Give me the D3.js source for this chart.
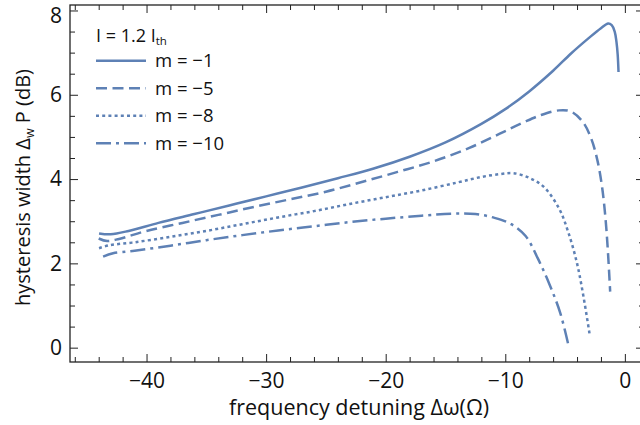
<!DOCTYPE html>
<html>
<head>
<meta charset="utf-8">
<script src="https://cdn.jsdelivr.net/npm/d3@7"></script>
<style>
  html, body { margin: 0; padding: 0; background: #fff; }
  svg { display: block; font-family: "Open Sans", "Noto Sans", sans-serif; }
</style>
</head>
<body>
<svg id="chart" width="640" height="425"></svg>
<script>
// ---- data ----
const xM1 = [-43.97, -43, -41.5, -39, -36, -33, -30, -27, -24, -21, -18, -15, -12, -10, -8, -6, -4.5, -3, -2, -1.4, -1.1, -0.85, -0.7, -0.6, -0.53];
const yM1 = [2.71, 2.69, 2.77, 2.96, 3.17, 3.38, 3.59, 3.80, 4.02, 4.25, 4.53, 4.87, 5.31, 5.66, 6.08, 6.57, 6.98, 7.35, 7.58, 7.69, 7.65, 7.50, 7.25, 6.95, 6.54];

const xM5 = [-44, -43.3, -42.3, -40, -37, -34, -31, -28, -25, -22, -19, -16, -13, -10.5, -8.5, -7, -5.5, -4.5, -3.5, -2.8, -2.3, -1.9, -1.6, -1.4, -1.23];
const yM5 = [2.59, 2.53, 2.58, 2.77, 2.96, 3.15, 3.34, 3.52, 3.70, 3.93, 4.17, 4.42, 4.74, 5.07, 5.34, 5.52, 5.63, 5.60, 5.35, 4.95, 4.45, 3.80, 3.00, 2.20, 1.33];

const xM8 = [-43.97, -43.1, -41, -38, -35, -32, -29, -26, -23, -20, -17, -14, -12, -10.4, -9.3, -8, -6.8, -5.5, -4.7, -4.0, -3.46, -2.96];
const yM8 = [2.36, 2.43, 2.50, 2.63, 2.77, 2.93, 3.09, 3.24, 3.41, 3.57, 3.73, 3.92, 4.05, 4.12, 4.14, 4.03, 3.82, 3.30, 2.71, 2.00, 1.21, 0.34];

const xM10 = [-43.63, -42.8, -41, -38, -35, -32, -29, -26, -23, -20, -17, -14.5, -12.5, -10.9, -9.5, -8.3, -7.3, -6.3, -5.4, -4.72];
const yM10 = [2.16, 2.24, 2.30, 2.42, 2.55, 2.67, 2.78, 2.88, 2.98, 3.06, 3.13, 3.18, 3.17, 3.08, 2.93, 2.65, 2.13, 1.50, 0.82, 0.06];

const seriesNames = ["m = \u22121", "m = \u22125", "m = \u22128", "m = \u221210"];
const xTickValues = [-40, -30, -20, -10, 0];
const yTickValues = [0, 2, 4, 6, 8];
const xDomain = [-46.4, 1.6];
const yDomain = [-0.34, 8.13];

// ---- styles ----
const color = "#5e81b5";
const dashes = [null, "11,5.5", "3,3.2", "15,5,3,5"];
const frameColor = "#222";

const svg = d3.select("#chart");
const plot = { left: 70, right: 644, top: 5, bottom: 362 };

const x = d3.scaleLinear().domain(xDomain).range([plot.left, plot.right]);
const y = d3.scaleLinear().domain(yDomain).range([plot.bottom, plot.top]);

svg.append("clipPath").attr("id", "clip")
  .append("rect").attr("x", plot.left).attr("y", plot.top)
  .attr("width", plot.right - plot.left).attr("height", plot.bottom - plot.top);

// ---- frame and ticks ----
const xMinor = d3.range(-46, 2, 2).filter(v => xTickValues.indexOf(v) < 0);
const yMinor = d3.range(0, 8.01, 0.5).filter(v => yTickValues.indexOf(v) < 0);
const MAJ = 8, MIN = 5;

function styleAxis(g) {
  g.select(".domain").remove();
  g.selectAll(".tick line").attr("stroke", frameColor).attr("stroke-width", 1);
  g.selectAll(".tick text").attr("fill", "#111").style("font-size", "21px")
    .style("font-family", "'Open Sans', sans-serif");
}

// bottom (labels)
svg.append("g").attr("transform", `translate(0,${plot.bottom})`)
  .call(d3.axisBottom(x).tickValues(xTickValues).tickSize(-MAJ).tickPadding(11)
    .tickFormat(d => d === 0 ? "0" : "\u2212" + Math.abs(d)))
  .call(styleAxis);
svg.append("g").attr("transform", `translate(0,${plot.bottom})`)
  .call(d3.axisBottom(x).tickValues(xMinor).tickSize(-MIN).tickFormat(""))
  .call(styleAxis);
// top (mirror)
svg.append("g").attr("transform", `translate(0,${plot.top})`)
  .call(d3.axisTop(x).tickValues(xTickValues).tickSize(-MAJ).tickFormat(""))
  .call(styleAxis);
svg.append("g").attr("transform", `translate(0,${plot.top})`)
  .call(d3.axisTop(x).tickValues(xMinor).tickSize(-MIN).tickFormat(""))
  .call(styleAxis);
// left (labels)
const yAxisG = svg.append("g").attr("transform", `translate(${plot.left},0)`)
  .call(d3.axisLeft(y).tickValues(yTickValues).tickSize(-MAJ).tickPadding(8)
    .tickFormat(d3.format("d")))
  .call(styleAxis);
// top label sits a little lower, as in the reference
yAxisG.selectAll(".tick text").filter(d => d === 8).attr("dy", "0.55em");
svg.append("g").attr("transform", `translate(${plot.left},0)`)
  .call(d3.axisLeft(y).tickValues(yMinor).tickSize(-MIN).tickFormat(""))
  .call(styleAxis);
// right (mirror)
svg.append("g").attr("transform", `translate(${plot.right},0)`)
  .call(d3.axisRight(y).tickValues(yTickValues).tickSize(-MAJ).tickFormat(""))
  .call(styleAxis);
svg.append("g").attr("transform", `translate(${plot.right},0)`)
  .call(d3.axisRight(y).tickValues(yMinor).tickSize(-MIN).tickFormat(""))
  .call(styleAxis);

svg.append("rect")
  .attr("x", plot.left).attr("y", plot.top)
  .attr("width", plot.right - plot.left).attr("height", plot.bottom - plot.top)
  .attr("fill", "none").attr("stroke", frameColor).attr("stroke-width", 1.3);

// ---- curves ----
const series = [
  { xs: xM1, ys: yM1 },
  { xs: xM5, ys: yM5 },
  { xs: xM8, ys: yM8 },
  { xs: xM10, ys: yM10 }
];
const line = d3.line().x(d => x(d[0])).y(d => y(d[1])).curve(d3.curveCatmullRom.alpha(0.5));
const gCurves = svg.append("g").attr("clip-path", "url(#clip)");
series.forEach((s, i) => {
  const pts = s.xs.map((v, k) => [v, s.ys[k]]);
  gCurves.append("path").datum(pts)
    .attr("d", line)
    .attr("fill", "none")
    .attr("stroke", color)
    .attr("stroke-width", 2.5)
    .attr("stroke-dasharray", dashes[i])
    .attr("stroke-linecap", "butt");
});

// ---- legend ----
const leg = svg.append("g");
const title = leg.append("text").attr("x", 96).attr("y", 41.5)
  .style("font-size", "18px").attr("fill", "#111");
title.append("tspan").text("I = 1.2 I");
title.append("tspan").text("th").style("font-size", "11.5px").attr("dy", 3);

seriesNames.forEach((name, i) => {
  const yy = 60.7 + i * 27.5;
  leg.append("line").attr("x1", 96).attr("x2", 146).attr("y1", yy).attr("y2", yy)
    .attr("stroke", color).attr("stroke-width", 2.5)
    .attr("stroke-dasharray", dashes[i]);
  leg.append("text").attr("x", 155).attr("y", yy + 6.3)
    .style("font-size", "18.5px").attr("fill", "#111").text(name);
});

// ---- axis titles ----
svg.append("text")
  .attr("x", 359).attr("y", 415)
  .attr("text-anchor", "middle")
  .style("font-size", "21.5px").attr("fill", "#111")
  .text("frequency detuning \u0394\u03c9(\u03a9)");

const yl = svg.append("text")
  .attr("transform", `translate(30,${(plot.top + plot.bottom) / 2 + 4}) rotate(-90)`)
  .attr("text-anchor", "middle")
  .style("font-size", "20px").attr("fill", "#111");
yl.append("tspan").text("hysteresis width \u0394");
yl.append("tspan").text("w").style("font-size", "12.5px").attr("dy", 4);
yl.append("tspan").text(" P (dB)").attr("dy", -4);
</script>
</body>
</html>
